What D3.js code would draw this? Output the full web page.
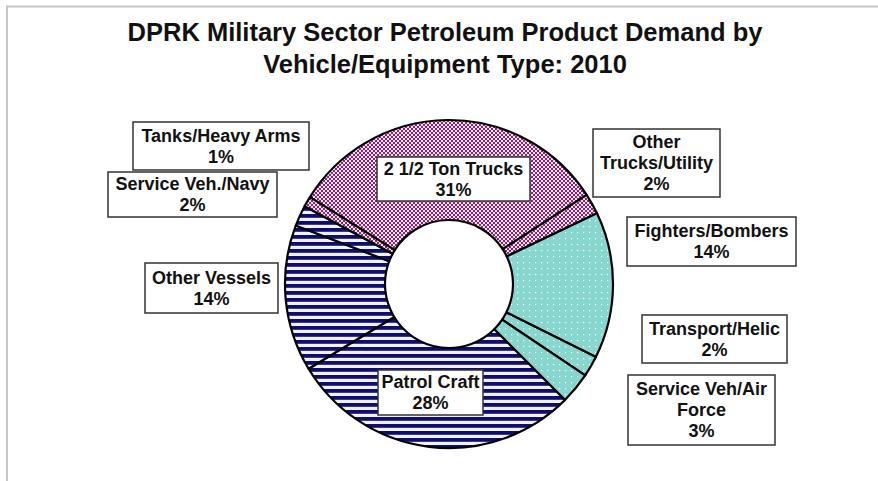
<!DOCTYPE html>
<html>
<head>
<meta charset="utf-8">
<script src="https://cdn.jsdelivr.net/npm/d3@7"></script>
<style>
  html, body { margin: 0; padding: 0; background: #fff; }
  svg { display: block; }
  text { font-family: "Liberation Sans", Arial, Helvetica, sans-serif; font-weight: bold; fill: #111; }
</style>
</head>
<body>
<svg id="chart" width="878" height="481"></svg>
<script>
// Petroleum product demand shares (%) by vehicle / equipment type, 2010
const categories = [
  "2 1/2 Ton Trucks", "Other Trucks/Utility", "Fighters/Bombers",
  "Transport/Helic", "Service Veh/Air Force", "Patrol Craft",
  "Other Vessels", "Service Veh./Navy", "Tanks/Heavy Arms"
];
const shares = [31, 2, 14, 2, 3, 28, 14, 2, 1];
// Service branch of each category (selects the fill pattern)
const branches = ["ground", "ground", "air", "air", "air", "navy", "navy", "navy", "ground"];
// How each label is broken onto lines
const labelLines = [
  ["2 1/2 Ton Trucks"], ["Other", "Trucks/Utility"], ["Fighters/Bombers"],
  ["Transport/Helic"], ["Service Veh/Air", "Force"], ["Patrol Craft"],
  ["Other Vessels"], ["Service Veh./Navy"], ["Tanks/Heavy Arms"]
];
const titleLines = ["DPRK Military Sector Petroleum Product Demand by", "Vehicle/Equipment Type: 2010"];

// ---- layout ----
const cx = 449, cy = 284, rOuter = 164, rInner = 64;
const startDeg = -58;
// label boxes: [x, y, width, height]
const labelBoxes = [
  [377, 157, 153, 44], [593, 129, 127, 68], [627, 217, 169, 49],
  [642, 315, 145, 48], [628, 375, 147, 70], [378, 370, 105, 45],
  [145, 263, 133, 50], [108, 172, 169, 45], [133, 122, 176, 48]
];
const labelFont = 18, lineGap = 21;

const svg = d3.select("#chart");

// ---- fill patterns ----
const defs = svg.append("defs");
const checker = defs.append("pattern").attr("id", "pat-ground")
  .attr("patternUnits", "userSpaceOnUse").attr("width", 4).attr("height", 4);
checker.append("rect").attr("width", 4).attr("height", 4).attr("fill", "#7e2a6d");
checker.append("rect").attr("width", 2).attr("height", 2).attr("fill", "#f3dcee");
checker.append("rect").attr("x", 2).attr("y", 2).attr("width", 2).attr("height", 2).attr("fill", "#f3dcee");

const dots = defs.append("pattern").attr("id", "pat-air")
  .attr("patternUnits", "userSpaceOnUse").attr("width", 6).attr("height", 6);
dots.append("rect").attr("width", 6).attr("height", 6).attr("fill", "#88d7ce");
dots.append("rect").attr("x", 2).attr("y", 2).attr("width", 1.2).attr("height", 1.2).attr("fill", "#ffffff");

const stripes = defs.append("pattern").attr("id", "pat-navy")
  .attr("patternUnits", "userSpaceOnUse").attr("width", 7).attr("height", 7);
stripes.append("rect").attr("width", 7).attr("height", 7).attr("fill", "#f2f0ff");
stripes.append("rect").attr("width", 7).attr("height", 3.8).attr("fill", "#0e0e6c");

// ---- chart frame ----
svg.append("path").attr("d", "M7,481V6.5H878")
  .attr("fill", "none").attr("stroke", "#c6c6c6").attr("stroke-width", 2);

// ---- title ----
svg.append("g").selectAll("text").data(titleLines).join("text")
  .attr("x", 445).attr("y", (d, i) => 41 + i * 32)
  .attr("text-anchor", "middle").style("font-size", "25.5px")
  .text(d => d);

// ---- donut ----
const rad = startDeg * Math.PI / 180;
const pie = d3.pie().sort(null).value(d => d.value)
  .startAngle(rad).endAngle(rad + 2 * Math.PI);
const arc = d3.arc().innerRadius(rInner).outerRadius(rOuter);
const rows = categories.map((c, i) => ({ name: c, value: shares[i], branch: branches[i], i }));

svg.append("g").attr("transform", `translate(${cx},${cy})`)
  .selectAll("path").data(pie(rows)).join("path")
  .attr("d", arc)
  .attr("fill", d => `url(#pat-${d.data.branch})`)
  .attr("stroke", "#000").attr("stroke-width", 2.2).attr("stroke-linejoin", "round");

// ---- data labels ----
const lab = svg.append("g").selectAll("g").data(rows).join("g");
lab.append("rect")
  .attr("x", d => labelBoxes[d.i][0]).attr("y", d => labelBoxes[d.i][1])
  .attr("width", d => labelBoxes[d.i][2]).attr("height", d => labelBoxes[d.i][3])
  .attr("fill", "#fff").attr("stroke", "#333").attr("stroke-width", 1.5);
lab.each(function (d) {
  const [bx, by, bw, bh] = labelBoxes[d.i];
  const lines = labelLines[d.i].concat([d.value + "%"]);
  const top = by + bh / 2 - (lines.length - 1) * lineGap / 2 + labelFont * 0.36;
  d3.select(this).selectAll("text").data(lines).join("text")
    .attr("x", bx + bw / 2).attr("y", (t, k) => top + k * lineGap)
    .attr("text-anchor", "middle").style("font-size", labelFont + "px")
    .text(t => t);
});
</script>
</body>
</html>
